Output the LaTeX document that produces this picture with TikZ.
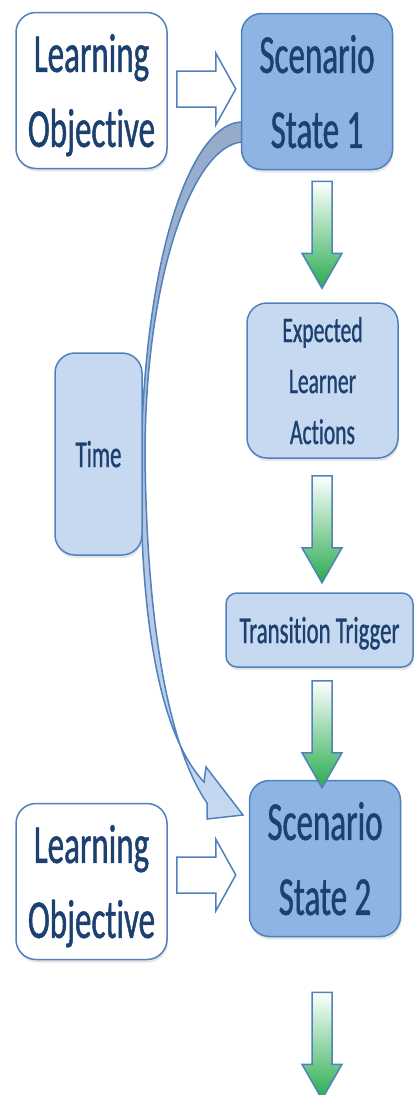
\documentclass[tikz,border=0pt]{standalone}
\usepackage{fontspec}
\newfontfamily\labelfont[FakeStretch=0.6, FakeBold=0.8, Ligatures=NoCommon]{Carlito}
\usetikzlibrary{shadows}
\definecolor{boxline}{RGB}{79,129,189}
\definecolor{darkfill}{RGB}{142,180,227}
\definecolor{lightfill}{RGB}{198,217,241}
\definecolor{textblue}{RGB}{28,64,112}
\definecolor{timegrey}{RGB}{149,169,201}
\definecolor{arrowgreen}{RGB}{40,172,78}
\tikzset{
  hollowarrow/.pic={\draw[draw=boxline, line width=1.5pt, fill=white]
     (0,-18) -- (39,-18) -- (39,-36) -- (59,0) -- (39,36) -- (39,18) -- (0,18) -- cycle;},
  greenarrow/.pic={\shadedraw[draw=boxline, line width=1.5pt, top color=white, bottom color=arrowgreen]
     (-10,0) -- (10,0) -- (10,72) -- (20,72) -- (0,107) -- (-20,72) -- (-10,72) -- cycle;}
}
\begin{document}
\begin{tikzpicture}[x=1pt, y=-1pt,
                  box/.style={draw=boxline, line width=1.5pt, rounded corners=20pt, align=center,
                              text=textblue, inner sep=0pt, text depth=0pt,
                              drop shadow={shadow xshift=1pt, shadow yshift=-3pt, opacity=0.2}},
                  big/.style={box, minimum width=151pt, minimum height=156pt,
                              font=\labelfont\fontsize{55}{75}\selectfont},
                  small/.style={box, fill=lightfill, font=\labelfont\fontsize{38}{51}\selectfont}]
\clip (0,0) rectangle (415,1095);
% time arrow
\shadedraw[draw=boxline, line width=1.5pt, top color=timegrey, bottom color=lightfill]
  (242,122) .. controls (195,122) and (146,240) .. (141,455)
  .. controls (139,620) and (160,735) .. (204,782)
  -- (206,767) -- (243,815) -- (207,819) -- (207,803)
  .. controls (172,752) and (147,640) .. (145,455)
  .. controls (145,280) and (192,146) .. (242,142) -- cycle;
\node[big, fill=white] (lo1) at (91.5,90.5) {Learning\\Objective};
\node[big, fill=darkfill] (ss1) at (317,91.5) {Scenario\\State 1};
\node[small, minimum width=151pt, minimum height=155pt, font=\labelfont\fontsize{36}{51}\selectfont]
  (ela) at (322.5,380.5) {Expected\\Learner\\Actions};
\node[small, minimum width=187pt, minimum height=74pt, rounded corners=11pt] (tt) at (319.5,630) {Transition Trigger};
\node[small, minimum width=87pt, minimum height=202pt] (time) at (98.5,454) {Time};
\node[big, fill=darkfill] (ss2) at (325,858.5) {Scenario\\State 2};
\node[big, fill=white] (lo2) at (91.5,881.5) {Learning\\Objective};
% arrows
\path (lo1.east) ++(9,-1.5) pic {hollowarrow};
\path (lo2.east) ++(9,-6.5) pic {hollowarrow};
\path (ss1.south) ++(5,11) pic {greenarrow};
\path (ela.south) ++(-0.5,17) pic {greenarrow};
\path (tt.south) ++(2.5,13) pic {greenarrow};
\path (ss2.south) ++(-3,55) pic {greenarrow};
\end{tikzpicture}
\end{document}
